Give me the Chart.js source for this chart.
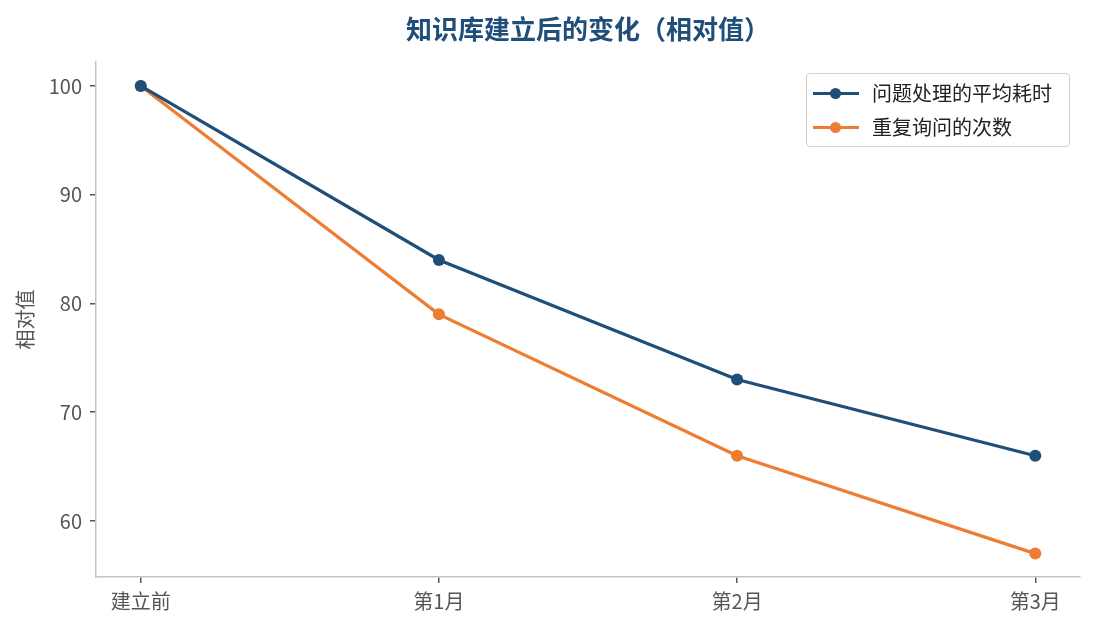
<!DOCTYPE html>
<html>
<head>
<meta charset="utf-8">
<script src="https://cdn.jsdelivr.net/npm/chart.js@4.4.1/dist/chart.umd.min.js"></script>
<style>
  html, body { margin: 0; padding: 0; background: #fff; }
  #wrap { position: relative; width: 1095px; height: 630px; }
  #legend {
    position: absolute; left: 806px; top: 73px; width: 264px; height: 74px;
    border: 1.5px solid #d0d0d0; border-radius: 4px; background: #fff;
    font-family: "Noto Sans CJK SC", "Noto Sans", sans-serif; font-size: 20px; color: #222;
    box-sizing: border-box; padding-top: 2px;
  }
  .item { position: relative; height: 34px; line-height: 34px; padding-left: 65px; white-space: nowrap; }
  .item .ln { position: absolute; left: 6px; top: 16px; width: 46px; height: 3px; }
  .item .dt { position: absolute; left: 23px; top: 12px; width: 11px; height: 11px; border-radius: 50%; }
</style>
</head>
<body>
<div id="wrap">
  <canvas id="c" width="1095" height="630"></canvas>
  <div id="legend"></div>
</div>
<script>
  var categories = ["建立前", "第1月", "第2月", "第3月"];
  var timeSeries = [100, 84, 73, 66];
  var repeatSeries = [100, 79, 66, 57];
  var yTicks = [60, 70, 80, 90, 100];
  var seriesNames = ["问题处理的平均耗时", "重复询问的次数"];
  var colors = ["#1f4e79", "#ed7d31"];

  var font = "'Noto Sans CJK SC', 'Noto Sans', sans-serif";

  function toPoints(values) {
    return values.map(function (v, i) { return { x: i, y: v }; });
  }

  var datasets = [timeSeries, repeatSeries].map(function (vals, i) {
    return {
      label: seriesNames[i],
      data: toPoints(vals),
      borderColor: colors[i],
      backgroundColor: colors[i],
      borderWidth: 3.2,
      pointRadius: 6,
      pointBorderWidth: 0,
      tension: 0
    };
  });

  var chart = new Chart(document.getElementById("c"), {
    type: "line",
    data: { datasets: datasets },
    options: {
      responsive: false,
      animation: false,
      devicePixelRatio: 1,
      layout: { padding: { left: 0, right: 15, top: 0, bottom: 0 } },
      plugins: {
        legend: { display: false },
        tooltip: { enabled: false },
        title: {
          display: true,
          text: "知识库建立后的变化（相对值）",
          color: "#1f4e79",
          fullSize: false,
          font: { family: font, size: 26, weight: "bold", lineHeight: 1.2 },
          padding: { top: 14, bottom: 16.8 }
        }
      },
      scales: {
        x: {
          type: "linear",
          min: -0.15,
          max: 3.15,
          afterBuildTicks: function (scale) {
            scale.ticks = categories.map(function (c, i) { return { value: i }; });
          },
          afterFit: function (scale) { scale.height = 53; },
          border: { color: "#c4c4c4", width: 1.5 },
          grid: { drawOnChartArea: false, drawTicks: true, tickLength: 6, color: "#555", lineWidth: 1.5 },
          ticks: {
            color: "#555",
            padding: 6,
            maxRotation: 0,
            font: { family: font, size: 20 },
            callback: function (v) { return categories[v]; }
          }
        },
        y: {
          min: 54.85,
          max: 102.2,
          afterBuildTicks: function (scale) {
            scale.ticks = yTicks.map(function (v) { return { value: v }; });
          },
          afterFit: function (scale) { scale.width = 96; },
          border: { color: "#c4c4c4", width: 1.5 },
          grid: { drawOnChartArea: false, drawTicks: true, tickLength: 6, color: "#555", lineWidth: 1.5 },
          ticks: {
            color: "#555",
            padding: 8,
            font: { family: font, size: 20 }
          },
          title: {
            display: true,
            text: "相对值",
            color: "#555",
            font: { family: font, size: 20 },
            padding: { top: 13, bottom: 0 }
          }
        }
      }
    }
  });

  // HTML legend built from the datasets
  var legendEl = document.getElementById("legend");
  chart.data.datasets.forEach(function (ds) {
    var row = document.createElement("div");
    row.className = "item";
    row.innerHTML = '<span class="ln" style="background:' + ds.borderColor + '"></span>' +
      '<span class="dt" style="background:' + ds.borderColor + '"></span>' + ds.label;
    legendEl.appendChild(row);
  });
</script>
</body>
</html>
